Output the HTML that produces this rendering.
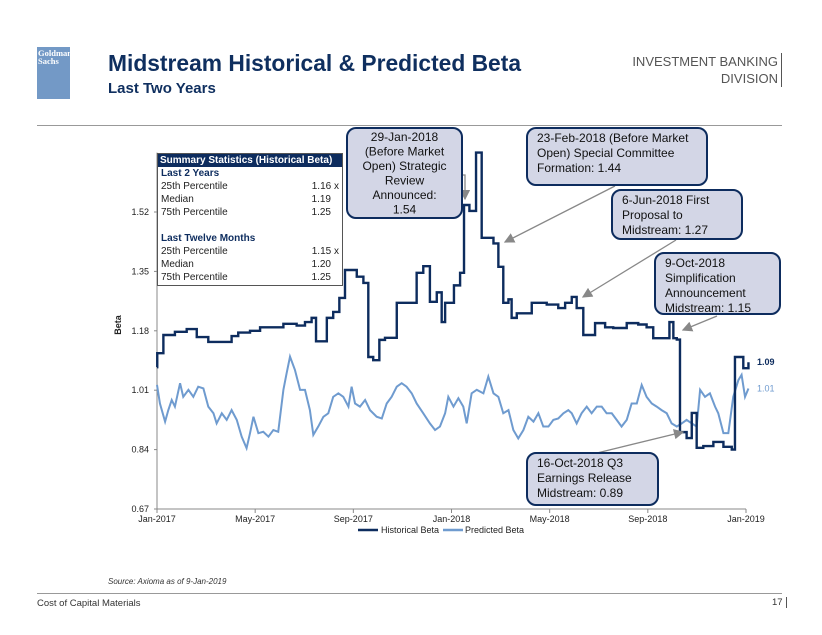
<!DOCTYPE html>
<html><head><meta charset="utf-8">
<style>
body{margin:0;width:822px;height:635px;background:#fff;font-family:"Liberation Sans",Arial,sans-serif;overflow:hidden;position:relative}
.abs{position:absolute}
</style></head><body>
<div class="abs" style="left:37px;top:47px;width:33px;height:52px;background:#7399c6;color:#fff;font-size:8.5px;line-height:8px;font-weight:bold;padding:2px 1px;box-sizing:border-box;font-family:'Liberation Serif',serif">Goldman<br>Sachs</div>
<div class="abs" style="left:108px;top:50px;font-size:22.8px;font-weight:bold;color:#0f2f5f">Midstream Historical &amp; Predicted Beta</div>
<div class="abs" style="left:108px;top:80px;font-size:15px;font-weight:bold;color:#0f2f5f">Last Two Years</div>
<div class="abs" style="right:40px;top:53px;font-size:13px;color:#555;text-align:right;line-height:17px;border-right:1px solid #555;padding-right:3px">INVESTMENT BANKING<br>DIVISION</div>
<div class="abs" style="left:37px;top:125px;width:745px;height:1px;background:#999"></div>

<svg class="abs" style="left:0;top:0" width="822" height="635">
<g id="axes"></g><g id="series"></g><g id="annots"></g>
</svg>

<div class="abs" style="left:157px;top:153px;width:186px;height:133px;border:1px solid #555;background:#fff;font-size:10px;color:#222;box-sizing:border-box">
<div style="background:#0d2c5e;color:#fff;font-weight:bold;font-size:10px;padding:1px 2px">Summary Statistics (Historical Beta)</div>
<div style="padding:0 3px;line-height:13px">
<div style="color:#0d2c5e;font-weight:bold">Last 2 Years</div>
<div>25th Percentile<span style="float:right">1.16 x</span></div>
<div>Median<span style="float:right;margin-right:8px">1.19</span></div>
<div>75th Percentile<span style="float:right;margin-right:8px">1.25</span></div>
<div style="height:13px"></div>
<div style="color:#0d2c5e;font-weight:bold">Last Twelve Months</div>
<div>25th Percentile<span style="float:right">1.15 x</span></div>
<div>Median<span style="float:right;margin-right:8px">1.20</span></div>
<div>75th Percentile<span style="float:right;margin-right:8px">1.25</span></div>
</div></div>

<div class="abs" style="left:108px;top:577px;font-size:8px;font-style:italic;color:#333">Source: Axioma as of 9-Jan-2019</div>
<div class="abs" style="left:37px;top:593px;width:745px;height:1px;background:#999"></div>
<div class="abs" style="left:37px;top:598px;font-size:9.5px;color:#333">Cost of Capital Materials</div>
<div class="abs" style="left:772px;top:597px;font-size:9.5px;color:#333;border-right:1px solid #555;padding-right:3px">17</div>

<script>
const xTickMonths=[0,4,8,12,16,20,24];
const xTickLabels=["Jan-2017","May-2017","Sep-2017","Jan-2018","May-2018","Sep-2018","Jan-2019"];
const yTicks=[0.67,0.84,1.01,1.18,1.35,1.52];
const histMonths=[0,0.01,0.26,0.73,1.21,1.62,2.09,3.04,3.31,3.79,4.20,5.15,5.69,6.03,6.30,6.48,6.92,7.18,7.43,7.66,8.14,8.41,8.61,8.81,9.06,9.29,9.77,10.58,10.85,11.12,11.40,11.60,11.74,12.10,12.35,12.51,12.73,13.00,13.23,13.71,13.91,14.11,14.32,14.45,14.66,15.27,15.88,16.35,16.63,16.90,17.10,17.37,17.85,18.26,18.59,19.14,19.61,19.95,20.22,20.88,21.04,21.18,21.31,21.58,21.79,21.99,22.26,22.67,23.08,23.42,23.55,23.89,24.1];
const histValues=[1.076,1.116,1.168,1.177,1.185,1.162,1.148,1.165,1.175,1.18,1.19,1.20,1.195,1.205,1.217,1.15,1.217,1.234,1.274,1.354,1.335,1.317,1.105,1.096,1.154,1.16,1.26,1.346,1.365,1.263,1.29,1.205,1.26,1.31,1.346,1.54,1.523,1.69,1.446,1.43,1.363,1.26,1.27,1.217,1.23,1.26,1.255,1.245,1.26,1.277,1.245,1.168,1.202,1.19,1.188,1.202,1.198,1.19,1.159,1.205,1.159,1.155,0.89,0.873,0.945,0.845,0.85,0.862,0.848,0.84,1.105,1.073,1.09];
const predMonths=[0,.12,.33,.46,.60,.73,.94,1.07,1.28,1.48,1.68,1.89,2.09,2.30,2.43,2.64,2.84,3.04,3.25,3.45,3.65,3.79,3.93,4.13,4.33,4.54,4.74,4.94,5.15,5.28,5.42,5.62,5.83,6.03,6.23,6.37,6.57,6.78,6.98,7.18,7.39,7.59,7.80,7.93,8.07,8.27,8.48,8.68,8.95,9.16,9.36,9.56,9.77,9.97,10.17,10.38,10.58,10.85,11.12,11.33,11.53,11.74,11.87,12.08,12.28,12.48,12.62,12.82,13.03,13.30,13.50,13.71,13.91,14.11,14.32,14.52,14.72,14.93,15.13,15.34,15.54,15.74,15.95,16.15,16.35,16.56,16.76,16.90,17.10,17.30,17.51,17.71,17.92,18.12,18.32,18.53,18.73,18.93,19.14,19.34,19.55,19.75,19.95,20.16,20.36,20.56,20.77,20.97,21.18,21.38,21.58,21.79,21.99,22.13,22.33,22.53,22.74,22.87,23.08,23.28,23.48,23.69,23.82,23.96,24.10];
const predValues=[1.025,.972,.920,.953,.982,.963,1.030,.991,1.011,.991,1.020,1.015,.963,.944,.915,.944,.925,.953,.925,.877,.844,.887,.934,.887,.891,.877,.896,.891,1.011,1.058,1.106,1.068,1.011,1.011,.953,.882,.906,.934,.944,.991,1.001,.991,.963,1.020,.972,.963,.982,.953,.934,.929,.972,.991,1.020,1.030,1.020,1.001,.972,.944,.915,.896,.906,.944,.991,.963,.987,.963,.915,1.001,1.011,1.001,1.049,1.001,.991,.944,.953,.896,.872,.896,.934,.920,.944,.906,.906,.925,.929,.944,.953,.944,.915,.944,.963,.944,.963,.963,.944,.944,.925,.906,.925,.972,.972,1.025,.991,.972,.963,.953,.944,.915,.906,.915,.925,.915,.906,1.011,.991,1.001,.963,.944,.887,.887,.991,1.039,1.054,.991,1.015];
const endLabels=["1.09","1.01"];

const NS="http://www.w3.org/2000/svg";
const X0=157,X1=746,Y0=509,YPER=59.4/0.17;
function xs(m){return X0+(X1-X0)*m/24;}
function ys(v){return Y0-(v-0.67)*YPER;}
function mk(tag,attrs,parent){const e=document.createElementNS(NS,tag);for(const k in attrs)e.setAttribute(k,attrs[k]);parent.appendChild(e);return e;}
const ax=document.getElementById('axes'),se=document.getElementById('series'),an=document.getElementById('annots');
let yl=mk('line',{x1:X0,x2:X0,y1:ys(1.69),y2:Y0,stroke:'#888'},ax);


let xl=mk('line',{x1:X0,x2:X1,y1:Y0,y2:Y0,stroke:'#888'},ax);


yTicks.forEach(v=>{
  mk('line',{x1:X0-3,x2:X0,y1:ys(v),y2:ys(v),stroke:'#888'},ax);
  const t=mk('text',{x:X0-8,y:ys(v)+3,'text-anchor':'end','font-size':9,fill:'#222'},ax);
  t.textContent=v.toFixed(2);
  
  
});
xTickMonths.forEach((m,i)=>{
  mk('line',{x1:xs(m),x2:xs(m),y1:Y0,y2:Y0+4,stroke:'#888'},ax);
  const t=mk('text',{x:xs(m),y:Y0+13,'text-anchor':'middle','font-size':9,fill:'#222'},ax);
  t.textContent=xTickLabels[i];
  
  
});
const yt=mk('text',{x:0,y:0,transform:'translate(121,325) rotate(-90)','text-anchor':'middle','font-size':9,'font-weight':'bold',fill:'#222'},ax);
yt.textContent='Beta';



let d='';
histMonths.forEach((m,i)=>{const x=xs(m),y=ys(histValues[i]);if(i==0)d+=`M${x},${y}`;else d+=`H${x}V${y}`;});
let pd=predMonths.map((m,i)=>(i?'L':'M')+xs(m)+','+ys(predValues[i])).join('');
const pl=mk('path',{d:pd,fill:'none',stroke:'#6f9bcf','stroke-width':2},se);


const hl=mk('path',{d:d,fill:'none',stroke:'#0d2c5e','stroke-width':2.4},se);


const e1=mk('text',{x:757,y:ys(histValues[histValues.length-1])+3,'font-size':9,'font-weight':'bold',fill:'#0d2c5e'},se);
e1.textContent=endLabels[0];


const e2=mk('text',{x:757,y:ys(predValues[predValues.length-1])+3,'font-size':9,fill:'#6f9bcf'},se);
e2.textContent=endLabels[1];



// legend
mk('line',{x1:358,x2:378,y1:530,y2:530,stroke:'#0d2c5e','stroke-width':2.5},se);
let lt=mk('text',{x:381,y:533,'font-size':9,fill:'#222'},se);lt.textContent='Historical Beta';


mk('line',{x1:443,x2:463,y1:530,y2:530,stroke:'#6f9bcf','stroke-width':2.5},se);
lt=mk('text',{x:465,y:533,'font-size':9,fill:'#222'},se);lt.textContent='Predicted Beta';



// annotations
mk('defs',{},an).innerHTML='<marker id="ah" markerWidth="8" markerHeight="8" refX="7" refY="4" orient="auto"><path d="M0,0L8,4L0,8z" fill="#888"/></marker>';
const arrows=[[[455,175],[465,175],[465,199]],[[615,186],[505,242]],[[676,240],[583,297]],[[717,316],[683,330]],[[597,453],[683,432]]];
arrows.forEach(p=>{const a=mk('polyline',{points:p.map(q=>q.join(',')).join(' '),fill:'none',stroke:'#888','stroke-width':1.3,'marker-end':'url(#ah)'},an);

});
const boxes=[
 [347,128,115,90,'middle',["29-Jan-2018","(Before Market","Open) Strategic","Review","Announced:","1.54"],13,14.5],
 [527,128,180,57,'start',["23-Feb-2018 (Before Market","Open) Special Committee","Formation: 1.44"],14,15],
 [612,190,130,49,'start',["6-Jun-2018 First","Proposal to","Midstream: 1.27"],14,15],
 [655,253,125,61,'start',["9-Oct-2018","Simplification","Announcement","Midstream: 1.15"],14,15],
 [527,453,131,52,'start',["16-Oct-2018 Q3","Earnings Release","Midstream: 0.89"],14,15]];
boxes.forEach(b=>{
 const [x,y,w,h,anc,lines,off,step]=b;
 const r=mk('rect',{x:x,y:y,width:w,height:h,rx:9,fill:'#d3d6e6',stroke:'#0d2c5e','stroke-width':2},an);
 
 
 lines.forEach((s,i)=>{const t=mk('text',{x:anc=='middle'?x+w/2:x+10,y:y+off+i*step,'text-anchor':anc,'font-size':12,fill:'#111'},an);t.textContent=s;
 
 });
});
</script>
</body></html>
